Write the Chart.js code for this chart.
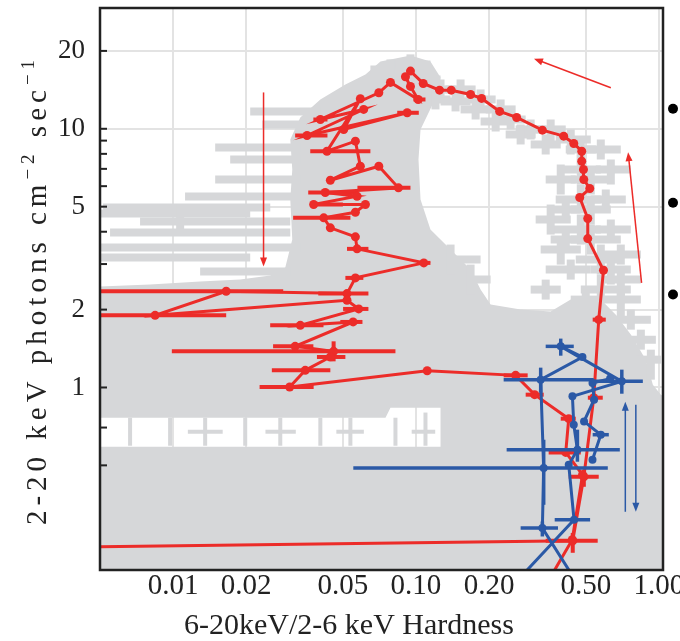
<!DOCTYPE html>
<html>
<head>
<meta charset="utf-8">
<script src="https://cdn.jsdelivr.net/npm/chart.js@4.4.1/dist/chart.umd.min.js"></script>
<style>
  html, body { margin: 0; padding: 0; background: #fff; }
  canvas { display: block; }
</style>
</head>
<body>
<canvas id="chart" width="680" height="641"></canvas>
<script>
// axis ticks
const xTickValues = [0.01, 0.02, 0.05, 0.1, 0.2, 0.5, 1];
const yTickValues = [1, 2, 5, 10, 20];
const yTickMarks = [20, 10, 9, 8, 7, 6, 5, 4, 3, 2, 1, 0.7, 0.5];

// rows: [hardness, flux, hardLo, hardHi, fluxLo, fluxHi]
const redObs = [
  [0.003, 0.2407],
  [0.442, 0.2555, 0.342, 0.560, 0.2296, 0.274],
  [0.491, 0.4518, 0.4255, 0.5655, 0.4132, 0.4808],
  [0.5395, 0.913, 0.510, 0.5875],
  [0.5655, 1.829, 0.534, 0.6045],
  [0.5915, 2.838], [0.5096, 3.763], [0.5096, 4.498], [0.4723, 5.424],
  [0.5194, 5.875], [0.4907, 6.367], [0.4893, 6.961], [0.4814, 7.493],
  [0.4814, 8.19], [0.4463, 8.772], [0.4057, 9.363], [0.3314, 9.876],
  [0.2597, 11.06], [0.221, 11.67], [0.1863, 13.1], [0.1678, 13.57],
  [0.1397, 14.1], [0.125, 14.1], [0.1071, 14.97], [0.0949, 16.71],
  [0.0905, 15.89], [0.0949, 14.58],
  [0.1021, 12.98, 0.0976, 0.1094],
  [0.0785, 15.11], [0.0703, 13.78],
  [0.0404, 10.86, 0.0378, 0.0432],
  [0.0609, 11.88],
  [0.0356, 9.42, 0.0318, 0.0432],
  [0.092, 11.53, 0.0837, 0.1027],
  [0.0504, 9.94], [0.059, 13.07],
  [0.043, 8.19, 0.0367, 0.0649],
  [0.0563, 8.954], [0.059, 7.167], [0.0444, 6.327], [0.0703, 7.167],
  [0.0847, 5.912, 0.0574, 0.0949],
  [0.0423, 5.671, 0.036, 0.0574],
  [0.0572, 5.487],
  [0.0379, 5.095, 0.0367, 0.050],
  [0.0619, 5.095], [0.0563, 4.757],
  [0.0417, 4.525, 0.0312, 0.0537],
  [0.0444, 4.14], [0.0563, 3.821],
  [0.0572, 3.434, 0.052, 0.0637],
  [0.1077, 3.031, 0.1024, 0.1147],
  [0.0563, 2.652, 0.0512, 0.0607],
  [0.052, 2.306, 0.0396, 0.0637],
  [0.01654, 2.354, 0.0045, 0.0284],
  [0.00843, 1.90, 0.004, 0.01654],
  [0.052, 2.173],
  [0.0581, 2.012, 0.0501, 0.0637],
  [0.0334, 1.739, 0.0251, 0.0416],
  [0.0551, 1.792, 0.0488, 0.0602],
  [0.0318, 1.442, 0.0258, 0.0378],
  [0.0458, 1.379, 0.00988, 0.0823, 1.262, 1.508],
  [0.0444, 1.312, 0.0391, 0.0512],
  [0.035, 1.165, 0.0255, 0.0444],
  [0.0302, 1.004, 0.0227, 0.0379],
  [0.1112, 1.161],
  [0.2572, 1.114, 0.2296, 0.2883],
  [0.308, 0.938, 0.2829, 0.3356],
  [0.4255, 0.7575, 0.3944, 0.4548],
  [0.4136, 0.561, 0.3518, 0.477],
  [0.485, 0.46], [0.44, 0.258], [0.308, 0.145]
];

const blueObsA = [
  [0.2203, 0.151],
  [0.4475, 0.308, 0.3725, 0.521],
  [0.4255, 0.5027],
  [0.462, 0.5745, 0.2362, 0.6906, 0.5164, 0.687],
  [0.4463, 0.718],
  [0.4407, 0.924],
  [0.7038, 1.056, 0.534, 0.859, 0.946, 1.172],
  [0.3944, 1.442, 0.342, 0.4463, 1.327, 1.545],
  [0.4846, 1.312],
  [0.3261, 1.072, 0.2296, 0.5395, 0.955, 1.193],
  [0.3356, 0.488, 0.0552, 0.6162, 0.352, 0.628],
  [0.3314, 0.286, 0.2697, 0.3843, 0.2655, 0.3034],
  [0.5096, 0.151]
];

const blueObsB = [
  [0.63, 1.082], [0.533, 1.041], [0.541, 0.897], [0.492, 0.7393],
  [0.5766, 0.6568, 0.534, 0.6222], [0.533, 0.5255]
];

// all-observation cloud: crosses
const grayObs = [
  [0.0785, 16.96, 0.0649, 0.1044, 15.51, 18.54],
  [0.0949, 17.73, 0.0823, 0.1147, 15.51, 19.39],
  [0.1044, 15.51, 0.0863, 0.1262, 13.57, 16.96],
  [0.0863, 14.19, 0.0714, 0.1044, 12.98, 15.51],
  [0.1262, 14.19, 0.1094, 0.1455, 12.98, 15.51],
  [0.1526, 14.19, 0.1323, 0.1760, 12.42, 15.51],
  [0.1845, 12.98, 0.1600, 0.2128, 11.88, 14.19],
  [0.2231, 11.88, 0.1935, 0.2572, 10.86, 12.98],
  [0.2453, 10.86, 0.2128, 0.2829, 9.94, 11.88],
  [0.2966, 9.94, 0.2572, 0.3420, 9.09, 10.86],
  [0.3585, 9.94, 0.3110, 0.4136, 8.696, 10.86],
  [0.4336, 9.09, 0.3761, 0.5244, 7.954, 9.94],
  [0.4770, 8.318, 0.4136, 0.5499, 7.275, 9.09],
  [0.4770, 6.961, 0.3944, 0.5766, 6.088, 7.954],
  [0.5244, 6.367, 0.4336, 0.6341, 5.569, 6.961],
  [0.4770, 5.328, 0.3761, 0.5766, 4.874, 6.088],
  [0.5244, 4.874, 0.4336, 0.6341, 4.264, 5.328],
  [0.4770, 4.078, 0.3585, 0.5766, 3.568, 4.662],
  [0.5244, 3.731, 0.4336, 0.6971, 3.264, 4.264],
  [0.5766, 3.122, 0.4548, 0.6971, 2.732, 3.568],
  [0.6341, 2.856, 0.5244, 0.7665, 2.499, 3.264],
  [0.5766, 2.390, 0.4770, 0.7665, 2.186, 2.732],
  [0.6971, 2.612, 0.5766, 0.8430, 2.186, 2.856],
  [0.3944, 3.413, 0.3261, 0.4770, 2.985, 3.731],
  [0.4336, 2.856, 0.3420, 0.5244, 2.612, 3.122],
  [0.6971, 2.186, 0.5766, 0.8430, 1.829, 2.390],
  [0.7665, 1.829, 0.6341, 0.9268, 1.673, 2.000],
  [0.8430, 1.531, 0.6971, 0.9720, 1.400, 1.673],
  [0.9268, 1.281, 0.8039, 1.019, 1.072, 1.400],
  [0.3944, 6.367, 0.3420, 0.4548, 5.569, 7.275],
  [0.3585, 4.459, 0.3110, 0.4336, 3.900, 5.095],
  [0.1388, 3.122, 0.1094, 0.1845, 2.732, 3.568],
  [0.1678, 2.612, 0.1262, 0.2029, 2.286, 2.985],
  [0.1203, 12.98, 0.1044, 0.1388, 11.88, 14.19],
  [0.1455, 12.75, 0.1262, 0.1678, 11.67, 13.94],
  [0.1760, 11.88, 0.1526, 0.2029, 10.86, 12.98],
  [0.2128, 10.67, 0.1845, 0.2453, 9.76, 11.67],
  [0.2697, 9.506, 0.2340, 0.3110, 8.696, 10.39],
  [0.3420, 8.696, 0.2966, 0.3944, 7.954, 9.506],
  [0.5766, 8.318, 0.5000, 0.6971, 7.608, 9.09],
  [0.6341, 6.961, 0.5499, 0.7665, 6.088, 7.608],
  [0.6045, 5.328, 0.5244, 0.7309, 4.874, 5.825],
  [0.4136, 4.874, 0.3585, 0.4770, 4.459, 5.328],
  [0.6341, 4.078, 0.5499, 0.7665, 3.731, 4.459],
  [0.4136, 3.731, 0.3585, 0.5000, 3.413, 4.078],
  [0.6971, 3.264, 0.5766, 0.8430, 2.985, 3.568],
  [0.5000, 2.186, 0.4336, 0.5766, 2.000, 2.390],
  [0.3420, 2.390, 0.2966, 0.3944, 2.186, 2.612],
  [0.03037, 11.67, 0.02077, 0.04038],
  [0.03037, 10.39, 0.02328, 0.04038],
  [0.02284, 8.467, 0.0149, 0.03339],
  [0.02512, 7.608, 0.01718, 0.03339],
  [0.02512, 6.367, 0.0149, 0.03339],
  [0.02077, 5.472, 0.0112, 0.03339],
  [0.01292, 4.961, 0.00514, 0.02512],
  [0.01069, 4.703, 0.0048, 0.02077, 4.078, 5.095],
  [0.01563, 4.379, 0.00731, 0.03037],
  [0.01292, 3.970, 0.0055, 0.03037],
  [0.01292, 3.474, 0.0048, 0.03339],
  [0.01069, 3.178, 0.0048, 0.02077],
  [0.02077, 2.805, 0.01292, 0.03037]
];

// faint observations inside the sparse band near 0.6-0.8 ph/cm2/s
const grayFaint = [
  [0.00665, 0.6745, null, null, 0.5954, 0.764],
  [0.00972, 0.6745, null, null, 0.5954, 0.764],
  [0.01355, 0.6745, 0.0115, 0.0160, 0.5954, 0.764],
  [0.01981, 0.6745, null, null, 0.5954, 0.764],
  [0.02762, 0.6745, 0.0240, 0.0320, 0.5954, 0.764],
  [0.04038, 0.6745, null, null, 0.5954, 0.764],
  [0.05369, 0.6745, 0.0470, 0.0610, 0.5954, 0.764],
  [0.0823, 0.6745, null, null, 0.5954, 0.764],
  [0.1094, 0.6745, 0.0960, 0.1200, 0.5954, 0.80]
];

// outline of the dense part of the cloud
const grayEnvelope = [
  [0.00477, 0.1805], [0.00477, 0.59], [0.1262, 0.59], [0.1262, 0.835],
  [0.0785, 0.835], [0.0749, 0.764], [0.00477, 0.764], [0.00477, 2.455],
  [0.00804, 2.499], [0.01292, 2.567], [0.01889, 2.612], [0.02512, 2.707],
  [0.02896, 2.907], [0.03095, 3.731], [0.03037, 5.328], [0.03095, 6.961],
  [0.03037, 9.09], [0.03339, 11.06], [0.04038, 12.98], [0.05121, 14.84],
  [0.06192, 16.22], [0.0714, 18.21], [0.0949, 19.21], [0.1147, 18.21],
  [0.1262, 15.79], [0.117, 12.42], [0.1044, 9.94], [0.1024, 7.608],
  [0.1044, 5.328], [0.1147, 4.078], [0.1388, 3.413], [0.1678, 2.856],
  [0.1845, 2.39], [0.2029, 2.091], [0.2697, 2.0], [0.3585, 1.965],
  [0.4336, 2.186], [0.5766, 2.186], [0.6649, 1.912], [0.7665, 1.601],
  [0.8836, 1.281], [0.9447, 1.025], [1.019, 0.938], [1.099, 0.897],
  [1.099, 0.1805]
];

// direction arrows [x0, y0, x1(tip), y1(tip)]
const redArrows = [
  [0.02357, 13.82, 0.02357, 2.933],
  [0.6341, 14.41, 0.306, 18.66],
  [0.8487, 2.537, 0.7471, 8.118]
];
const blueArrows = [
  [0.7276, 0.3308, 0.7276, 0.881],
  [0.8039, 0.858, 0.8039, 0.3308]
];
const sideDots = [11.95, 5.173, 2.286];

const RED = '#ec2c29';
const BLUE = '#2b59a6';
const GRAY = '#d6d7d9';
const INK = '#222222';
const SERIF = '"Liberation Serif", "Times New Roman", serif';

const toPt = r => ({ x: r[0], y: r[1], xLo: r[2], xHi: r[3], yLo: r[4], yHi: r[5] });

const errorBars = {
  id: 'errorBars',
  beforeDatasetDraw(chart, args) {
    const ds = chart.data.datasets[args.index];
    if (!ds.errorBars) return;
    const { ctx, chartArea: a, scales: { x, y } } = chart;
    ctx.save();
    ctx.beginPath();
    ctx.rect(a.left, a.top, a.right - a.left, a.bottom - a.top);
    ctx.clip();
    ctx.strokeStyle = ds.errorBars.color;
    ctx.lineWidth = ds.errorBars.width;
    ctx.lineCap = 'butt';
    ds.data.forEach(p => {
      const px = x.getPixelForValue(p.x), py = y.getPixelForValue(p.y);
      if (p.xLo != null) {
        ctx.beginPath();
        ctx.moveTo(x.getPixelForValue(p.xLo), py);
        ctx.lineTo(x.getPixelForValue(p.xHi), py);
        ctx.stroke();
      }
      if (p.yLo != null) {
        ctx.beginPath();
        ctx.moveTo(px, y.getPixelForValue(p.yLo));
        ctx.lineTo(px, y.getPixelForValue(p.yHi));
        ctx.stroke();
      }
    });
    ctx.restore();
  }
};

function arrow(ctx, x, y, a, color) {
  const x0 = x.getPixelForValue(a[0]), y0 = y.getPixelForValue(a[1]);
  const x1 = x.getPixelForValue(a[2]), y1 = y.getPixelForValue(a[3]);
  const ang = Math.atan2(y1 - y0, x1 - x0);
  ctx.strokeStyle = color;
  ctx.fillStyle = color;
  ctx.lineWidth = 1.5;
  ctx.beginPath();
  ctx.moveTo(x0, y0);
  ctx.lineTo(x1 - 6 * Math.cos(ang), y1 - 6 * Math.sin(ang));
  ctx.stroke();
  ctx.beginPath();
  ctx.moveTo(x1, y1);
  ctx.lineTo(x1 - 9 * Math.cos(ang) + 3.5 * Math.sin(ang), y1 - 9 * Math.sin(ang) - 3.5 * Math.cos(ang));
  ctx.lineTo(x1 - 9 * Math.cos(ang) - 3.5 * Math.sin(ang), y1 - 9 * Math.sin(ang) + 3.5 * Math.cos(ang));
  ctx.closePath();
  ctx.fill();
}

const decorations = {
  id: 'decorations',
  afterDatasetsDraw(chart) {
    const { ctx, chartArea: a, scales: { x, y } } = chart;
    ctx.save();
    redArrows.forEach(r => arrow(ctx, x, y, r, RED));
    blueArrows.forEach(r => arrow(ctx, x, y, r, BLUE));
    // frame
    ctx.strokeStyle = INK;
    ctx.lineWidth = 2.5;
    ctx.strokeRect(a.left, a.top, a.right - a.left, a.bottom - a.top);
    // inward tick marks on the left
    ctx.lineWidth = 2;
    yTickMarks.forEach(v => {
      const py = y.getPixelForValue(v);
      ctx.beginPath();
      ctx.moveTo(a.left, py);
      ctx.lineTo(a.left + 7, py);
      ctx.stroke();
    });
    // markers beside the frame
    ctx.fillStyle = '#000';
    sideDots.forEach(v => {
      ctx.beginPath();
      ctx.arc(a.right + 10, y.getPixelForValue(v), 5, 0, Math.PI * 2);
      ctx.fill();
    });
    ctx.restore();
  },
  afterDraw(chart) {
    const { ctx } = chart;
    ctx.save();
    ctx.fillStyle = INK;
    ctx.textBaseline = 'alphabetic';
    ctx.textAlign = 'center';
    ctx.font = '30px ' + SERIF;
    ctx.fillText('6-20keV/2-6 keV Hardness', 349, 634);

    ctx.translate(46, 290);
    ctx.rotate(-Math.PI / 2);
    ctx.textAlign = 'left';
    const parts = [
      ['2-20 keV photons cm', '29px ' + SERIF, 0],
      ['\u22122', '19px ' + SERIF, -12],
      [' sec', '29px ' + SERIF, 0],
      ['\u22121', '19px ' + SERIF, -12]
    ];
    let total = 0;
    parts.forEach(p => {
      ctx.font = p[1];
      ctx.letterSpacing = '5px';
      p.w = ctx.measureText(p[0]).width;
      total += p.w;
    });
    let cx = -total / 2;
    parts.forEach(p => {
      ctx.font = p[1];
      ctx.letterSpacing = '5px';
      ctx.fillText(p[0], cx, p[2]);
      cx += p.w;
    });
    ctx.restore();
  }
};

new Chart(document.getElementById('chart'), {
  type: 'scatter',
  data: {
    datasets: [
      {
        label: 'blue b',
        data: blueObsB.map(toPt),
        showLine: true, borderColor: BLUE, borderWidth: 3,
        pointRadius: 4, pointBackgroundColor: BLUE, pointBorderWidth: 0,
        errorBars: { color: BLUE, width: 3.5 }, order: 1, clip: 0
      },
      {
        label: 'blue a',
        data: blueObsA.map(toPt),
        showLine: true, borderColor: BLUE, borderWidth: 3,
        pointRadius: 4, pointBackgroundColor: BLUE, pointBorderWidth: 0,
        errorBars: { color: BLUE, width: 3.5 }, order: 1, clip: 0
      },
      {
        label: 'red',
        data: redObs.map(toPt),
        showLine: true, borderColor: RED, borderWidth: 3,
        pointRadius: 4.5, pointBackgroundColor: RED, pointBorderWidth: 0,
        errorBars: { color: RED, width: 4 }, order: 2, clip: 0
      },
      {
        label: 'all',
        data: grayObs.map(toPt),
        showLine: false, pointRadius: 0,
        errorBars: { color: GRAY, width: 8 }, order: 3, clip: 0
      },
      {
        label: 'faint',
        data: grayFaint.map(toPt),
        showLine: false, pointRadius: 0,
        errorBars: { color: GRAY, width: 4 }, order: 3, clip: 0
      },
      {
        label: 'envelope',
        data: grayEnvelope.map(r => ({ x: r[0], y: r[1] })),
        showLine: true, fill: 'shape', backgroundColor: GRAY, borderColor: GRAY,
        borderWidth: 0, pointRadius: 0, order: 4, clip: 0
      }
    ]
  },
  options: {
    responsive: false,
    animation: false,
    devicePixelRatio: 1,
    layout: { padding: { top: 8, right: 17, left: 0, bottom: 0 } },
    plugins: { legend: { display: false }, tooltip: { enabled: false } },
    scales: {
      x: {
        type: 'logarithmic', position: 'bottom', min: 0.005, max: 1.04,
        afterBuildTicks: s => { s.ticks = xTickValues.map(v => ({ value: v })); },
        afterFit: s => { s.height = 71; s.paddingLeft = 0; s.paddingRight = 0; },
        grid: { color: '#e3e3e3', lineWidth: 2, drawTicks: false },
        border: { display: false },
        ticks: {
          callback: v => Number(v).toFixed(2),
          font: { family: SERIF, size: 29, lineHeight: 1 }, color: INK,
          padding: 2, maxRotation: 0, autoSkip: false
        }
      },
      y: {
        type: 'logarithmic', min: 0.197, max: 29.3,
        afterBuildTicks: s => { s.ticks = yTickValues.map(v => ({ value: v })); },
        afterFit: s => { s.width = 100; s.paddingTop = 0; s.paddingBottom = 0; },
        grid: { color: '#e3e3e3', lineWidth: 2, drawTicks: false },
        border: { display: false },
        ticks: {
          callback: v => String(v),
          font: { family: SERIF, size: 27 }, color: INK,
          padding: 15, autoSkip: false
        }
      }
    }
  },
  plugins: [errorBars, decorations]
});
</script>
</body>
</html>
